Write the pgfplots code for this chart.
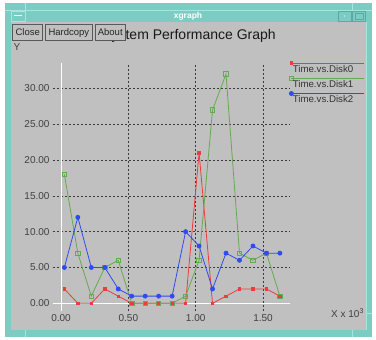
\documentclass[border=0pt]{standalone}
\usepackage{pgfplots}
\pgfplotsset{compat=1.18}
\usepackage{fontspec}
\setmainfont{Liberation Sans}
\definecolor{winbg}{RGB}{192,192,192}
\definecolor{tealw}{RGB}{123,204,195}
\definecolor{teall}{RGB}{170,228,222}
\definecolor{teald}{RGB}{90,170,162}
\definecolor{gridc}{RGB}{60,60,60}
\definecolor{cred}{RGB}{238,60,60}
\definecolor{cgreen}{RGB}{100,170,80}
\definecolor{cblue}{RGB}{45,75,240}
\begin{document}
\begin{tikzpicture}
\begin{scope}[x=1pt,y=-1pt]
  \fill[white] (0,0) rectangle (376,340);
  \fill[tealw] (5,3) rectangle (372,337);
  \draw[teall, line width=0.8pt] (5,10) -- (372,10);
  \draw[teall, line width=0.8pt] (25,3) -- (25,10);
  \draw[teall, line width=0.8pt] (352,3) -- (352,10);
  \draw[teall, line width=0.8pt] (25,330) -- (25,337);
  \draw[teall, line width=0.8pt] (352,330) -- (352,337);
  \draw[teall, line width=0.8pt] (366,313) -- (372,313);
  \draw[teall, line width=0.6pt] (11,11) rectangle (25,21);
  \draw[white, line width=0.8pt] (14,15.5) -- (22,15.5);
  \draw[teald, line width=0.6pt] (338,11) rectangle (351,21);
  \fill[teall] (344.5,16) circle (1pt);
  \draw[teald, line width=0.6pt] (352,11) rectangle (365,21);
  \draw[teald, line width=0.6pt] (355,13) rectangle (363,19);
  \node[text=white, font=\bfseries\fontsize{8.5}{10}\selectfont, anchor=base] at (188,18) {xgraph};
  \fill[winbg] (11.5,22) rectangle (366,330);
  \draw[teall, line width=0.8pt] (366.4,22) -- (366.4,330);
  \node[anchor=base, font=\fontsize{14}{16}\selectfont, text=black!90] at (189,40) {System Performance Graph};
  \foreach \a/\b/\t in {12.7/42.7/Close, 45/92.7/Hardcopy, 95/125.5/About}{
    \draw[black!65, fill=winbg, line width=0.8pt] (\a,24) rectangle (\b,40);
    \node[font=\fontsize{9.5}{11}\selectfont, text=black!85, anchor=base] at ({(\a+\b)/2},35.5) {\t};
  }
  \node[anchor=base west, font=\fontsize{10}{12}\selectfont, text=black!75, inner sep=0pt] at (13.5,50.5) {Y};
  \node[anchor=base west, font=\fontsize{10}{12}\selectfont, text=black!75, inner sep=0pt] at (331,317.5) {X x 10\textsuperscript{3}};
\end{scope}
\begin{axis}[
  at={(61pt,-303.3pt)}, anchor=south west,
  scale only axis, width=229pt, height=240pt,
  xmin=0, xmax=1.7, ymin=0, ymax=33.5,
  clip=false,
  axis line style={draw=none},
  xtick={0.5,1,1.5}, ytick={5,10,15,20,25,30},
  extra x ticks={0}, extra y ticks={0},
  extra tick style={grid style={white, solid, line width=1pt}, major tick style={white, solid, line width=1pt}},
  grid=major,
  grid style={draw=gridc, dash pattern=on 2pt off 2pt, line width=0.6pt},
  major tick style={draw=gridc, dash pattern=on 2pt off 2pt, line width=0.6pt},
  tick align=outside, major tick length=8pt,
  xtick pos=left, ytick pos=left,
  ticklabel style={font=\fontsize{10}{12}\selectfont, text=black!75},
  /pgf/number format/.cd, fixed, fixed zerofill, precision=2, assume math mode=true,
  /pgfplots/.cd,
  legend style={at={(axis description cs:1,1)}, anchor=north west, xshift=1pt, yshift=-1.7pt,
    draw=none, fill=none, inner sep=0pt, outer sep=0pt, row sep=8.3pt, column sep=1pt,
    font=\fontsize{9.7}{11}\selectfont, text=black!80,
    nodes={inner sep=0pt, text height=7pt, text depth=0pt}},
  legend cell align=left,
  legend image code/.code={\path (0pt,0pt); \draw[mark repeat=2, mark phase=1, #1, overlay] plot coordinates {(0pt,5.6pt) (73pt,5.6pt)};},
]
\addplot[cred, line width=0.8pt, mark=square*, mark size=1.2pt, mark options={solid}] coordinates {
(0.025,2) (0.125,0) (0.225,0) (0.325,2) (0.425,1) (0.525,0) (0.625,0) (0.725,0) (0.825,0)
(0.925,0) (1.025,21) (1.125,0) (1.225,1) (1.325,2) (1.425,2) (1.525,2) (1.625,1)};
\addlegendentry{Time.vs.Disk0}
\addplot[cgreen, line width=0.8pt, mark=square, mark size=2.2pt, mark options={solid}] coordinates {
(0.025,18) (0.125,7) (0.225,1) (0.325,5) (0.425,6) (0.525,0) (0.625,0) (0.725,0) (0.825,0)
(0.925,1) (1.025,6) (1.125,27) (1.225,32) (1.325,7) (1.425,6) (1.525,7) (1.625,1)};
\addlegendentry{Time.vs.Disk1}
\addplot[cblue, line width=0.8pt, mark=*, mark size=2pt, mark options={solid}] coordinates {
(0.025,5) (0.125,12) (0.225,5) (0.325,5) (0.425,2) (0.525,1) (0.625,1) (0.725,1) (0.825,1)
(0.925,10) (1.025,8) (1.125,2) (1.225,7) (1.325,6) (1.425,8) (1.525,7) (1.625,7)};
\addlegendentry{Time.vs.Disk2}
\end{axis}
\end{tikzpicture}
\end{document}
